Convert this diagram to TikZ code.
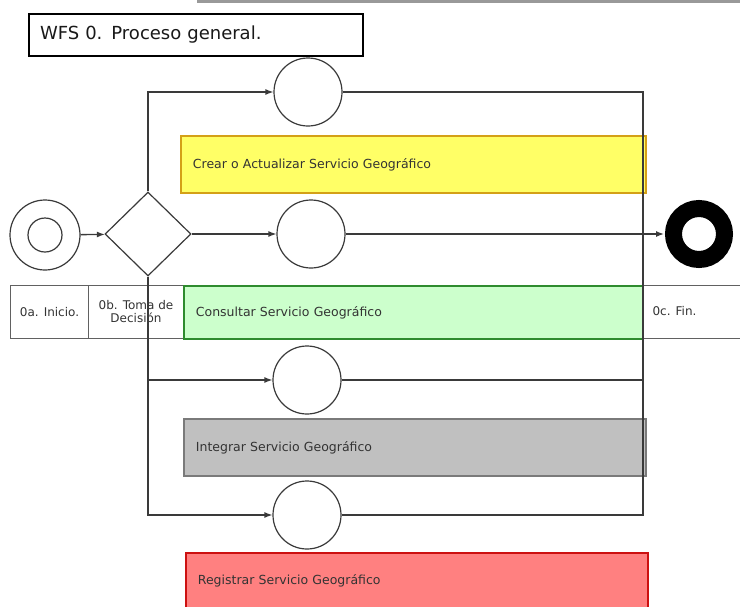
\documentclass[tikz,border=0pt]{standalone}
\usepackage{fontspec}
\setmainfont{DejaVu Sans}
\usetikzlibrary{shapes.geometric,arrows.meta}
\definecolor{txt}{HTML}{333333}
\definecolor{lin}{HTML}{3A3A3A}
\definecolor{yfill}{HTML}{FFFF66}
\definecolor{ydraw}{HTML}{D4A017}
\definecolor{gfill}{HTML}{CCFFCC}
\definecolor{gdraw}{HTML}{2E8B2E}
\definecolor{sfill}{HTML}{C0C0C0}
\definecolor{sdraw}{HTML}{7A7A7A}
\definecolor{rfill}{HTML}{FF8080}
\definecolor{rdraw}{HTML}{CC1111}
\tikzset{
  act/.style={circle, draw=lin, line width=1.2pt, minimum size=68pt, inner sep=0pt, fill=white},
  lane/.style={rectangle, anchor=north west, line width=1.8pt, minimum height=57pt, inner xsep=12pt,
     text width=441pt, align=left, font=\fontsize{12.5}{15}\selectfont, text=txt},
  cell/.style={rectangle, draw=lin!80, line width=1pt, anchor=north west, minimum height=53pt, inner sep=1pt,
     align=center, font=\fontsize{12}{13}\selectfont, text=txt},
  flow/.style={draw=lin, line width=1.3pt, -{Latex[length=8pt,width=6pt]}},
  plain/.style={draw=lin, line width=1.3pt},
}
\begin{document}
\begin{tikzpicture}[x=1pt,y=-1pt]
\useasboundingbox (0,0) rectangle (740,606);
\fill[white] (0,0) rectangle (740,606);
% top gray rule
\draw[gray!80, line width=3pt] (197,1) -- (740,1);
% title
\node[draw=black, line width=2pt, anchor=north west, minimum width=334pt, minimum height=42pt,
  text width=312pt, inner xsep=11pt, align=left, font=\fontsize{18}{21}\selectfont, text=black!90]
  (title) at (28,13) {WFS 0. Proceso general.};
% lanes
\node[lane, fill=yfill, draw=ydraw] (crear) at (180,135) {Crear o Actualizar Servicio Geográfico};
\node[lane, fill=sfill, draw=sdraw, text width=438pt] (integrar) at (183,418) {Integrar Servicio Geográfico};
\node[lane, fill=rfill, draw=rdraw, minimum height=70pt, text width=438pt, text depth=16pt] (registrar) at (185,552) {Registrar Servicio Geográfico};
% table row
\draw[lin!80, line width=1pt] (10,285) -- (740,285);
\draw[lin!80, line width=1pt] (10,338) -- (740,338);
\node[cell, minimum width=78pt] (c0a) at (10,285) {0a. Inicio.};
\node[cell, minimum width=95pt] (c0b) at (88,285) {0b. Toma de\\Decisión};
\node[lane, fill=gfill, draw=gdraw, minimum height=53pt, text width=435pt] (consultar) at (183,285) {Consultar Servicio Geográfico};
\node[anchor=west, font=\fontsize{12}{13}\selectfont, text=txt] (c0c) at (649,311.5) {0c. Fin.};
% flow nodes
\node[circle, draw=lin, line width=1.2pt, minimum size=70pt, inner sep=0pt] (start) at (45,235) {};
\node[circle, draw=lin, line width=1.2pt, minimum size=34pt, inner sep=0pt] (startin) at (45,235) {};
\node[diamond, draw=lin, line width=1.2pt, minimum width=86pt, minimum height=84pt, inner sep=0pt, fill=white] (dec) at (148,234) {};
\node[act] (a1) at (308,92) {};
\node[act] (a2) at (311,234) {};
\node[act] (a3) at (307,380) {};
\node[act] (a4) at (307,515) {};
\node[circle, draw=black, line width=17pt, minimum size=51pt, inner sep=0pt] (fin) at (699,234) {};
\coordinate (join) at (643,234);
% connectors
\draw[flow] (start) -- (dec);
\draw[flow] (dec.north) |- (a1);
\draw[flow] (dec) -- (a2);
\draw[flow] (dec.south) |- (a3);
\draw[flow] (dec.south) |- (a4);
\draw[plain] (a1) -| (join);
\draw[plain] (a3) -| (join);
\draw[plain] (a4) -| (join);
\draw[flow] (a2) -- ([xshift=-1pt]fin.west);
\end{tikzpicture}
\end{document}
